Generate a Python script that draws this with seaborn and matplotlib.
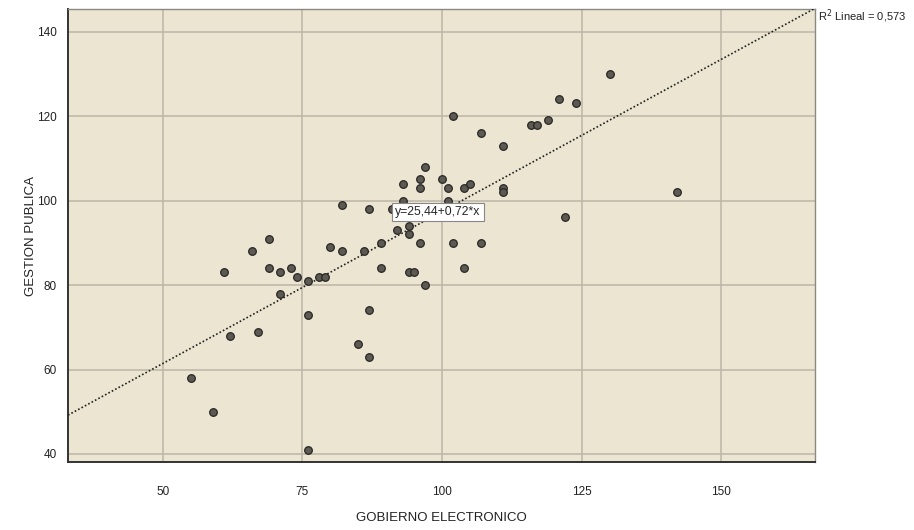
import matplotlib
matplotlib.use("Agg")
import matplotlib.pyplot as plt
import seaborn as sns
import numpy as np
import pandas as pd

# ---- data ----
gobierno_electronico = [
    130, 121, 124, 116, 117, 119, 102, 107, 111, 97,
    93, 96, 96, 100, 101, 104, 105, 111, 111, 142,
    93, 101, 82, 87, 91, 122, 92, 94, 94, 96,
    102, 107, 89, 86, 82, 80, 69, 66, 61, 69,
    71, 73, 74, 76, 78, 79, 71, 89, 94, 95,
    97, 104, 76, 87, 62, 67, 85, 87, 55, 59,
    76,
]
gestion_publica = [
    130, 124, 123, 118, 118, 119, 120, 116, 113, 108,
    104, 105, 103, 105, 103, 103, 104, 103, 102, 102,
    100, 100, 99, 98, 98, 96, 93, 94, 92, 90,
    90, 90, 90, 88, 88, 89, 91, 88, 83, 84,
    83, 84, 82, 81, 82, 82, 78, 84, 83, 83,
    80, 84, 73, 74, 68, 69, 66, 63, 58, 50,
    41,
]
fit_intercept = 25.44
fit_slope = 0.72
fit_label = "y=25,44+0,72*x"
r2_label = "R$^2$ Lineal = 0,573"
x_ticks = [50, 75, 100, 125, 150]
y_ticks = [40, 60, 80, 100, 120, 140]
x_title = "GOBIERNO ELECTRONICO"
y_title = "GESTION PUBLICA"

df = pd.DataFrame({"x": gobierno_electronico, "y": gestion_publica})

sns.set_theme(style="white")
plt.rcParams["font.family"] = ["Liberation Sans Narrow", "Liberation Sans", "DejaVu Sans"]

fig = plt.figure(figsize=(9.14, 5.30), dpi=100)
ax = fig.add_axes([68 / 914, 1 - 462 / 530, (815 - 68) / 914, (462 - 9.3) / 530])
ax.set_facecolor("#ECE5D2")

xlim = (33.0, 166.8)
ylim = (38.1, 145.3)

ax.set_xticks(x_ticks)
ax.set_yticks(y_ticks)
ax.grid(True, color="#BDB6A6", linewidth=1.1)
ax.set_axisbelow(True)

# regression line
xs = np.array(xlim)
fit_df = pd.DataFrame({"x": xs, "y": fit_intercept + fit_slope * xs})
sns.lineplot(data=fit_df, x="x", y="y", ax=ax, color="#222222",
             linestyle=(0, (1, 1.3)), linewidth=1.2, zorder=3)

sns.scatterplot(data=df, x="x", y="y", ax=ax, s=30, color="#5E5A52",
                edgecolor="#262626", linewidth=0.9, zorder=4)

ax.set_xlim(*xlim)
ax.set_ylim(*ylim)

ax.text(91.6, 97.4, fit_label, fontsize=8.8, ha="left", va="center", zorder=5,
        bbox=dict(boxstyle="square,pad=0.25", facecolor="white", edgecolor="#888888", linewidth=0.8))
ax.text(1.004, 0.985, r2_label, transform=ax.transAxes, fontsize=8,
        ha="left", va="center", color="#222222", clip_on=False)

for side in ["left", "bottom"]:
    ax.spines[side].set_color("#333333")
    ax.spines[side].set_linewidth(1.4)
for side in ["top", "right"]:
    ax.spines[side].set_color("#8A8A80")
    ax.spines[side].set_linewidth(1.0)

ax.tick_params(axis="both", length=0, labelsize=8.5, colors="#222222")
ax.tick_params(axis="x", pad=17)
ax.tick_params(axis="y", pad=8)

ax.set_xlabel(x_title, fontsize=9.5, color="#222222")
ax.set_ylabel(y_title, fontsize=9.5, color="#222222")
ax.xaxis.set_label_coords(0.5, -0.110)
ax.yaxis.set_label_coords(-0.0415, 0.5)

fig.savefig("out.png", dpi=100)
